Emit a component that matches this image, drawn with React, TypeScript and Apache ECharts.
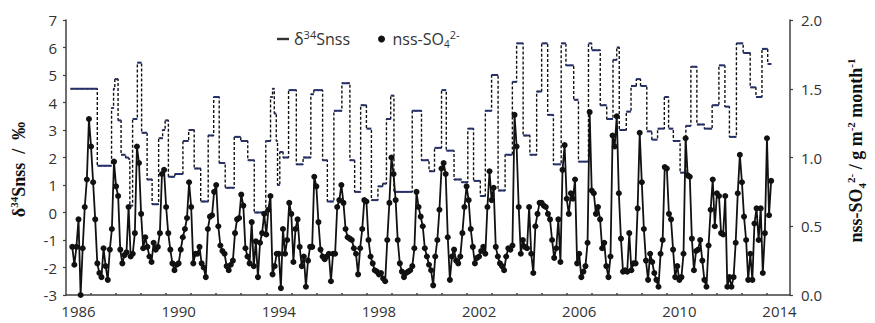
import React, { useEffect, useRef } from 'react';
import * as echarts from 'echarts';

// x-axis labels (years)
const yearLabels = [1986, 1990, 1994, 1998, 2002, 2006, 2010, 2014];

// δ34Snss (‰): sampling-period start (decimal year) and value
const d34Start = [
  1985.68, 1986.75, 1987.32, 1987.4, 1987.45, 1987.58, 1987.7, 1987.88, 1988.0, 1988.05,
  1988.16, 1988.35, 1988.52, 1988.74, 1988.94, 1989.2, 1989.36, 1989.46, 1989.59, 1989.85,
  1990.17, 1990.4, 1990.62, 1990.88, 1991.18, 1991.4, 1991.62, 1991.86, 1992.22, 1992.48,
  1992.76, 1993.02, 1993.48, 1993.67, 1993.75, 1993.82, 1993.9, 1993.95, 1994.04, 1994.17,
  1994.39, 1994.7, 1994.97, 1995.28, 1995.4, 1995.75, 1995.94, 1996.2, 1996.52, 1996.84,
  1997.03, 1997.27, 1997.5, 1997.7, 1997.96, 1998.15, 1998.3, 1998.47, 1998.6, 1999.33,
  1999.7, 2000.0, 2000.22, 2000.5, 2000.69, 2001.0, 2001.3, 2001.55, 2001.78, 2002.05,
  2002.25, 2002.5, 2002.76, 2003.04, 2003.33, 2003.5, 2003.76, 2004.03, 2004.3, 2004.5,
  2004.74, 2004.97, 2005.28, 2005.47, 2005.78, 2005.97, 2006.37, 2006.5, 2006.84, 2007.1,
  2007.35, 2007.5, 2007.6, 2007.88, 2008.07, 2008.28, 2008.45, 2008.7, 2008.9, 2009.13,
  2009.4, 2009.57, 2009.76, 2010.03, 2010.26, 2010.46, 2010.7, 2011.0, 2011.31, 2011.58,
  2011.82, 2012.0, 2012.28, 2012.55, 2012.83, 2013.06, 2013.3, 2013.53,
];
const d34End = 2013.68;
const d34Value = [
  4.5, 1.7, 3.8, 4.5, 4.85, 3.35, 2.1, 2.0, 1.95, 0.25,
  3.4, 5.45, 2.9, 1.2, 0.3, 2.7, 3.0, 3.35, 1.3, 1.4,
  2.6, 3.0, 1.6, 0.4, 2.8, 4.2, 1.8, 0.9, 2.75, 2.6,
  1.9, 0.0, 2.6, 4.2, 4.5, 3.6, 2.6, 1.0, 2.2, 2.0,
  4.45, 1.75, 2.0, 4.3, 4.45, 1.9, 0.4, 3.7, 4.7, 1.9,
  0.75, 3.9, 3.05, 0.45, 0.95, 1.05, 3.4, 4.25, 0.75, 3.7,
  1.9, 1.5, 2.35, 4.45, 2.25, 1.2, 1.1, 3.05, 1.15, 0.6,
  3.7, 5.0, 0.8, 2.1, 4.75, 6.15, 2.8, 2.1, 4.4, 6.15,
  3.55, 1.75, 6.15, 5.35, 4.1, 1.85, 6.15, 5.9, 3.9, 3.4,
  5.55, 6.0, 3.0, 3.67, 4.6, 4.85, 4.6, 2.95, 2.65, 3.05,
  4.2, 3.05, 2.6, 1.45, 3.15, 5.3, 3.2, 3.05, 3.9, 5.35,
  3.85, 2.75, 6.15, 5.8, 4.55, 4.2, 5.95, 5.4,
];

// nss-SO4 2- deposition (g m-2 month-1), monthly from Oct 1985
const nssStart = 1985.75;
const nssValues = [
  0.35, 0.22, 0.35, 0.55, 0.00, 0.34, 0.64, 0.84, 1.28, 1.08, 0.82, 0.55,
  0.23, 0.16, 0.13, 0.34, 0.21, 0.11, 0.33, 0.48, 0.97, 0.79, 0.72, 0.33,
  0.23, 0.29, 0.31, 0.64, 0.28, 0.30, 0.45, 1.08, 0.96, 0.59, 0.34, 0.42,
  0.35, 0.28, 0.24, 0.38, 0.33, 0.35, 0.45, 0.88, 0.91, 0.64, 0.45, 0.33,
  0.23, 0.18, 0.22, 0.23, 0.33, 0.42, 0.48, 0.56, 0.82, 0.64, 0.23, 0.30,
  0.30, 0.35, 0.23, 0.20, 0.13, 0.48, 0.57, 0.58, 0.75, 0.80, 0.50, 0.36,
  0.32, 0.30, 0.21, 0.18, 0.22, 0.25, 0.45, 0.55, 0.56, 0.73, 0.65, 0.34,
  0.28, 0.23, 0.53, 0.21, 0.39, 0.13, 0.38, 0.45, 0.59, 0.44, 0.62, 0.72,
  0.15, 0.21, 0.30, 0.30, 0.05, 0.48, 0.30, 0.40, 0.67, 0.59, 0.24, 0.48,
  0.55, 0.35, 0.21, 0.28, 0.06, 0.25, 0.35, 0.35, 0.86, 0.79, 0.53, 0.33,
  0.28, 0.26, 0.28, 0.30, 0.10, 0.30, 0.30, 0.64, 0.69, 0.80, 0.67, 0.48,
  0.42, 0.41, 0.40, 0.34, 0.30, 0.15, 0.34, 0.48, 0.69, 0.68, 0.40, 0.28,
  0.23, 0.18, 0.17, 0.15, 0.16, 0.12, 0.10, 0.40, 0.67, 1.00, 0.88, 0.69,
  0.40, 0.23, 0.17, 0.13, 0.16, 0.17, 0.18, 0.21, 0.34, 0.75, 0.64, 0.57,
  0.50, 0.34, 0.28, 0.22, 0.18, 0.07, 0.28, 0.40, 0.62, 0.92, 0.96, 0.88,
  0.42, 0.11, 0.28, 0.33, 0.25, 0.23, 0.28, 0.45, 0.64, 0.79, 0.69, 0.48,
  0.35, 0.23, 0.27, 0.28, 0.32, 0.35, 0.30, 0.64, 0.90, 0.69, 0.78, 0.35,
  0.28, 0.23, 0.21, 0.18, 0.28, 0.34, 0.33, 0.36, 1.31, 1.08, 0.64, 0.30,
  0.40, 0.35, 0.34, 0.64, 0.30, 0.16, 0.50, 0.59, 0.67, 0.67, 0.65, 0.64,
  0.59, 0.55, 0.40, 0.27, 0.34, 0.55, 0.24, 0.91, 1.09, 0.70, 0.59, 0.74,
  0.70, 0.84, 0.23, 0.30, 0.13, 0.17, 0.21, 0.38, 1.33, 0.76, 0.74, 0.59,
  0.64, 0.55, 0.34, 0.38, 0.21, 0.13, 0.28, 1.16, 1.08, 1.30, 0.74, 0.41,
  0.17, 0.18, 0.17, 0.45, 0.18, 0.23, 0.23, 0.63, 1.18, 0.82, 0.48, 0.25,
  0.11, 0.30, 0.24, 0.16, 0.11, 0.06, 0.30, 0.40, 0.93, 0.92, 0.59, 0.55,
  0.33, 0.13, 0.21, 0.11, 0.13, 0.30, 1.14, 0.87, 0.86, 0.41, 0.18, 0.32,
  0.33, 0.40, 0.25, 0.11, 0.06, 0.36, 0.62, 0.84, 0.50, 0.74, 0.72, 0.45,
  0.44, 0.72, 0.06, 0.13, 0.06, 0.13, 0.38, 0.74, 1.02, 0.82, 0.57, 0.40,
  0.11, 0.30, 0.11, 0.52, 0.63, 0.40, 0.63, 0.16, 0.45, 1.14, 0.58, 0.83,
];

const labelFont = 'Open Sans';
const titleFont = 'Liberation Serif';

export default function App() {
  const ref = useRef<HTMLDivElement>(null);
  useEffect(() => {
    const chart = echarts.init(ref.current!, null, { renderer: 'svg' });
    const nssData = nssValues.map((v, i) => [nssStart + i / 12, v]);
    const stepData: number[][] = d34Start.map((s, i) => [s, d34Value[i]]);
    stepData.push([d34End, d34Value[d34Value.length - 1]]);
    const segData = d34Start.map((s, i) => [
      s,
      i < d34Start.length - 1 ? d34Start[i + 1] : d34End,
      d34Value[i],
    ]);
    const halfYearTicks = Array.from({ length: 28 }, (_, k) => 1986.5 + k);

    const titleRich = {
      a: { fontFamily: titleFont, fontWeight: 'bold', fontSize: 18, color: '#111', lineHeight: 22 },
      s: { fontFamily: titleFont, fontWeight: 'bold', fontSize: 11, color: '#111', verticalAlign: 'top', lineHeight: 11 },
      b: { fontFamily: titleFont, fontWeight: 'bold', fontSize: 11, color: '#111', verticalAlign: 'bottom', lineHeight: 11 },
    };
    const legendRich = {
      t: { fontFamily: labelFont, fontSize: 16, color: '#333', lineHeight: 20 },
      sup: { fontFamily: labelFont, fontSize: 11, color: '#333', verticalAlign: 'top', lineHeight: 10 },
      sub: { fontFamily: labelFont, fontSize: 10, color: '#333', verticalAlign: 'bottom', lineHeight: 10 },
    };

    chart.setOption({
      animation: false,
      backgroundColor: '#ffffff',
      grid: { left: 65, right: 64, top: 20, bottom: 28 },
      legend: {
        left: 272,
        top: 24,
        itemGap: 28,
        itemWidth: 12,
        itemHeight: 7,
        data: [
          { name: 'd34', icon: 'path://M0 0H10V2H0Z' },
          { name: 'nss', icon: 'circle' },
        ],
        formatter: (n: string) =>
          n === 'd34' ? '{t|δ}{sup|34}{t|Snss}' : '{t|nss-SO}{sub|4}{sup|2-}',
        textStyle: { rich: legendRich },
      },
      xAxis: {
        type: 'value',
        min: 1985.5,
        max: 2014.42,
        splitLine: { show: false },
        axisLine: { onZero: false, lineStyle: { color: '#404040', width: 1.5 } },
        axisTick: {
          show: true,
          inside: true,
          length: 2,
          customValues: halfYearTicks,
          lineStyle: { color: '#404040', width: 1.5 },
        },
        axisLabel: {
          customValues: yearLabels,
          formatter: (v: number) => String(Math.round(v)),
          fontFamily: labelFont,
          fontSize: 15,
          color: '#333',
          margin: 8,
        },
      },
      yAxis: [
        {
          type: 'value',
          min: -3,
          max: 7,
          interval: 1,
          splitLine: { show: false },
          axisLine: { show: true, onZero: false, lineStyle: { color: '#404040', width: 1.5 } },
          axisTick: { show: true, length: 3, lineStyle: { color: '#404040', width: 1.2 } },
          axisLabel: { fontFamily: labelFont, fontSize: 15, color: '#333', margin: 9 },
          name: '{a|δ}{s|34}{a|Snss  /  ‰}',
          nameLocation: 'middle',
          nameGap: 36,
          nameRotate: 90,
          nameTextStyle: { rich: titleRich, padding: [0, 24, 0, 0] },
        },
        {
          type: 'value',
          min: 0,
          max: 2,
          interval: 0.5,
          position: 'right',
          splitLine: { show: false },
          axisLine: { show: true, onZero: false, lineStyle: { color: '#404040', width: 1.5 } },
          axisTick: { show: true, length: 3, lineStyle: { color: '#404040', width: 1.2 } },
          axisLabel: {
            fontFamily: labelFont,
            fontSize: 15,
            color: '#333',
            margin: 11,
            formatter: (v: number) => v.toFixed(1),
          },
          name: '{a|nss-SO}{b|4}{s|2-}{a| / g m}{s|-2}{a| month}{s|-1}',
          nameLocation: 'middle',
          nameGap: 55,
          nameRotate: 90,
          nameTextStyle: { rich: titleRich, padding: [0, 0, 0, 14] },
        },
      ],
      series: [
        {
          name: 'd34step',
          type: 'line',
          step: 'end',
          data: stepData,
          yAxisIndex: 0,
          symbol: 'none',
          lineStyle: { color: '#111', width: 1.4, type: [3, 2] },
          itemStyle: { color: '#111' },
          z: 2,
        },
        {
          name: 'd34',
          type: 'custom',
          data: segData,
          yAxisIndex: 0,
          encode: { x: [0, 1], y: 2 },
          itemStyle: { color: '#333' },
          renderItem: (params: any, api: any) => {
            const p1 = api.coord([api.value(0), api.value(2)]);
            const p2 = api.coord([api.value(1), api.value(2)]);
            return {
              type: 'line',
              shape: { x1: p1[0], y1: p1[1], x2: p2[0], y2: p2[1] },
              style: { stroke: '#26306a', lineWidth: 2 },
            };
          },
          z: 3,
        },
        {
          name: 'nss',
          type: 'line',
          data: nssData,
          yAxisIndex: 1,
          symbol: 'circle',
          symbolSize: 6,
          lineStyle: { color: '#111', width: 1.8 },
          itemStyle: { color: '#111' },
          z: 4,
        },
      ],
    });
    return () => chart.dispose();
  }, []);
  return (
    <div
      ref={ref}
      style={{ position: 'fixed', left: 0, top: 0, width: 875, height: 323, background: '#fff' }}
    />
  );
}
